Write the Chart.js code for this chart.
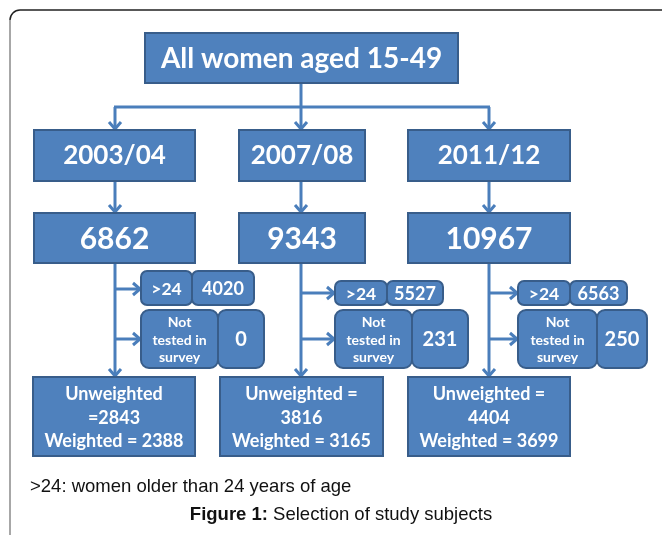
<!DOCTYPE html>
<html>
<head>
<meta charset="utf-8">
<script src="https://cdn.jsdelivr.net/npm/chart.js@4"></script>
<style>
  html, body { margin: 0; padding: 0; background: #fff; }
  canvas { display: block; }
</style>
</head>
<body>
<canvas id="flow" width="662" height="535"></canvas>
<script>
// data
const rootLabel = 'All women aged 15-49';
const periods = ['2003/04', '2007/08', '2011/12'];
const totals = [6862, 9343, 10967];
const olderThan24 = [4020, 5527, 6563];
const notTested = [0, 231, 250];
const unweighted = [2843, 3816, 4404];
const weighted = [2388, 3165, 3699];
const footnote = '>24: women older than 24 years of age';
const captionBold = 'Figure 1:';
const captionText = ' Selection of study subjects';

// layout (in scale units, same as pixels here)
const cols = [
  {cx: 115, box: [34, 195], low: [33, 195], over: [141, 192, 254, 271, 305], overY: 289, nt: [141, 218, 264], ntY: 339},
  {cx: 301, box: [239, 365], low: [220, 383], over: [335, 387, 443, 281, 305], overY: 293, nt: [335, 412, 468], ntY: 339},
  {cx: 489, box: [408, 570], low: [408, 570], over: [518, 570, 627, 281, 305], overY: 293, nt: [518, 597, 647], ntY: 339}
];
const FILL = '#4f81bd', EDGE = '#385d8a', LINE = '#4a7ebb';

const flowPlugin = {
  id: 'flow',
  afterDraw(chart) {
    const ctx = chart.ctx;
    const sx = chart.scales.x, sy = chart.scales.y;
    const X = v => sx.getPixelForValue(v);
    const Y = v => sy.getPixelForValue(v);

    ctx.save();

    // frame
    ctx.lineWidth = 1.5;
    ctx.strokeStyle = '#8a8a8a';
    ctx.beginPath();
    ctx.moveTo(X(10), Y(535));
    ctx.lineTo(X(10), Y(20));
    ctx.stroke();
    ctx.strokeStyle = '#222';
    ctx.beginPath();
    ctx.moveTo(X(10), Y(20));
    ctx.arcTo(X(10), Y(10), X(20), Y(10), 10);
    ctx.lineTo(X(662), Y(10));
    ctx.stroke();

    function seg(x1, y1, x2, y2) {
      ctx.strokeStyle = LINE;
      ctx.lineWidth = 3;
      ctx.beginPath();
      ctx.moveTo(X(x1), Y(y1));
      ctx.lineTo(X(x2), Y(y2));
      ctx.stroke();
    }
    function arrowDown(x, y1, y2) {
      seg(x, y1, x, y2 - 1);
      ctx.beginPath();
      ctx.moveTo(X(x - 6), Y(y2 - 8));
      ctx.lineTo(X(x), Y(y2 - 1));
      ctx.lineTo(X(x + 6), Y(y2 - 8));
      ctx.stroke();
    }
    function arrowRight(x1, x2, y) {
      seg(x1, y, x2 - 1, y);
      ctx.beginPath();
      ctx.moveTo(X(x2 - 8), Y(y - 6));
      ctx.lineTo(X(x2 - 1), Y(y));
      ctx.lineTo(X(x2 - 8), Y(y + 6));
      ctx.stroke();
    }
    function box(x1, y1, x2, y2, r) {
      ctx.fillStyle = FILL;
      ctx.strokeStyle = EDGE;
      ctx.lineWidth = 2;
      ctx.beginPath();
      if (r) ctx.roundRect(X(x1), Y(y1), X(x2) - X(x1), Y(y2) - Y(y1), r);
      else ctx.rect(X(x1), Y(y1), X(x2) - X(x1), Y(y2) - Y(y1));
      ctx.fill();
      ctx.stroke();
    }
    function text(lines, x, y, size, lh) {
      ctx.fillStyle = '#fff';
      ctx.font = 'bold ' + size + 'px Lato, "Open Sans", sans-serif';
      ctx.textAlign = 'center';
      ctx.textBaseline = 'middle';
      const start = y - (lines.length - 1) * lh / 2;
      lines.forEach((t, i) => ctx.fillText(t, X(x), Y(start + i * lh)));
    }

    // connectors
    seg(301, 83, 301, 107);
    seg(114, 107, 490, 107);
    cols.forEach(c => {
      arrowDown(c.cx, 107, 130);
      arrowDown(c.cx, 181, 213);
      arrowDown(c.cx, 263, 377);
      arrowRight(c.cx, c.over[0], c.overY);
      arrowRight(c.cx, c.nt[0], c.ntY);
    });

    // root
    box(145, 33, 458, 83);
    text([rootLabel], 301.5, 59, 28, 0);

    cols.forEach((c, i) => {
      box(c.box[0], 130, c.box[1], 181);
      text([periods[i]], (c.box[0] + c.box[1]) / 2, 156, 26, 0);

      box(c.box[0], 213, c.box[1], 263);
      text([String(totals[i])], (c.box[0] + c.box[1]) / 2, 239, 30, 0);

      const o = c.over;
      box(o[0], o[3], o[1], o[4], 6);
      box(o[1], o[3], o[2], o[4], 6);
      text(['>24'], (o[0] + o[1]) / 2, (o[3] + o[4]) / 2 + 1, 17.5, 0);
      text([String(olderThan24[i])], (o[1] + o[2]) / 2, (o[3] + o[4]) / 2 + 1, 18, 0);

      const n = c.nt;
      box(n[0], 310, n[1], 368, 8);
      box(n[1], 310, n[2], 368, 8);
      text(['Not', 'tested in', 'survey'], (n[0] + n[1]) / 2, 340, 14, 17.5);
      text([String(notTested[i])], (n[1] + n[2]) / 2, 340, 20, 0);

      box(c.low[0], 377, c.low[1], 456);
      const uw = i === 0 ? ['Unweighted', '=' + unweighted[i]] : ['Unweighted =', String(unweighted[i])];
      text(uw.concat(['Weighted = ' + weighted[i]]), (c.low[0] + c.low[1]) / 2, 418, 18, 23.5);
    });

    // footnote + caption
    const reg = '18.5px "Liberation Sans", Arial, sans-serif';
    const bold = 'bold ' + reg;
    ctx.fillStyle = '#111';
    ctx.textBaseline = 'middle';
    ctx.textAlign = 'left';
    ctx.font = reg;
    ctx.fillText(footnote, X(30), Y(487));
    ctx.font = bold;
    const wb = ctx.measureText(captionBold).width;
    ctx.font = reg;
    const wt = ctx.measureText(captionText).width;
    const left = X(341) - (wb + wt) / 2;
    ctx.font = bold;
    ctx.fillText(captionBold, left, Y(515));
    ctx.font = reg;
    ctx.fillText(captionText, left + wb, Y(515));

    ctx.restore();
  }
};

new Chart(document.getElementById('flow').getContext('2d'), {
  type: 'scatter',
  data: { datasets: [{ data: [], pointRadius: 0 }] },
  options: {
    responsive: false,
    animation: false,
    events: [],
    layout: { padding: 0 },
    plugins: { legend: { display: false }, tooltip: { enabled: false } },
    scales: {
      x: { type: 'linear', min: 0, max: 662, display: false },
      y: { type: 'linear', min: 0, max: 535, reverse: true, display: false }
    }
  },
  plugins: [flowPlugin]
});
</script>
</body>
</html>
